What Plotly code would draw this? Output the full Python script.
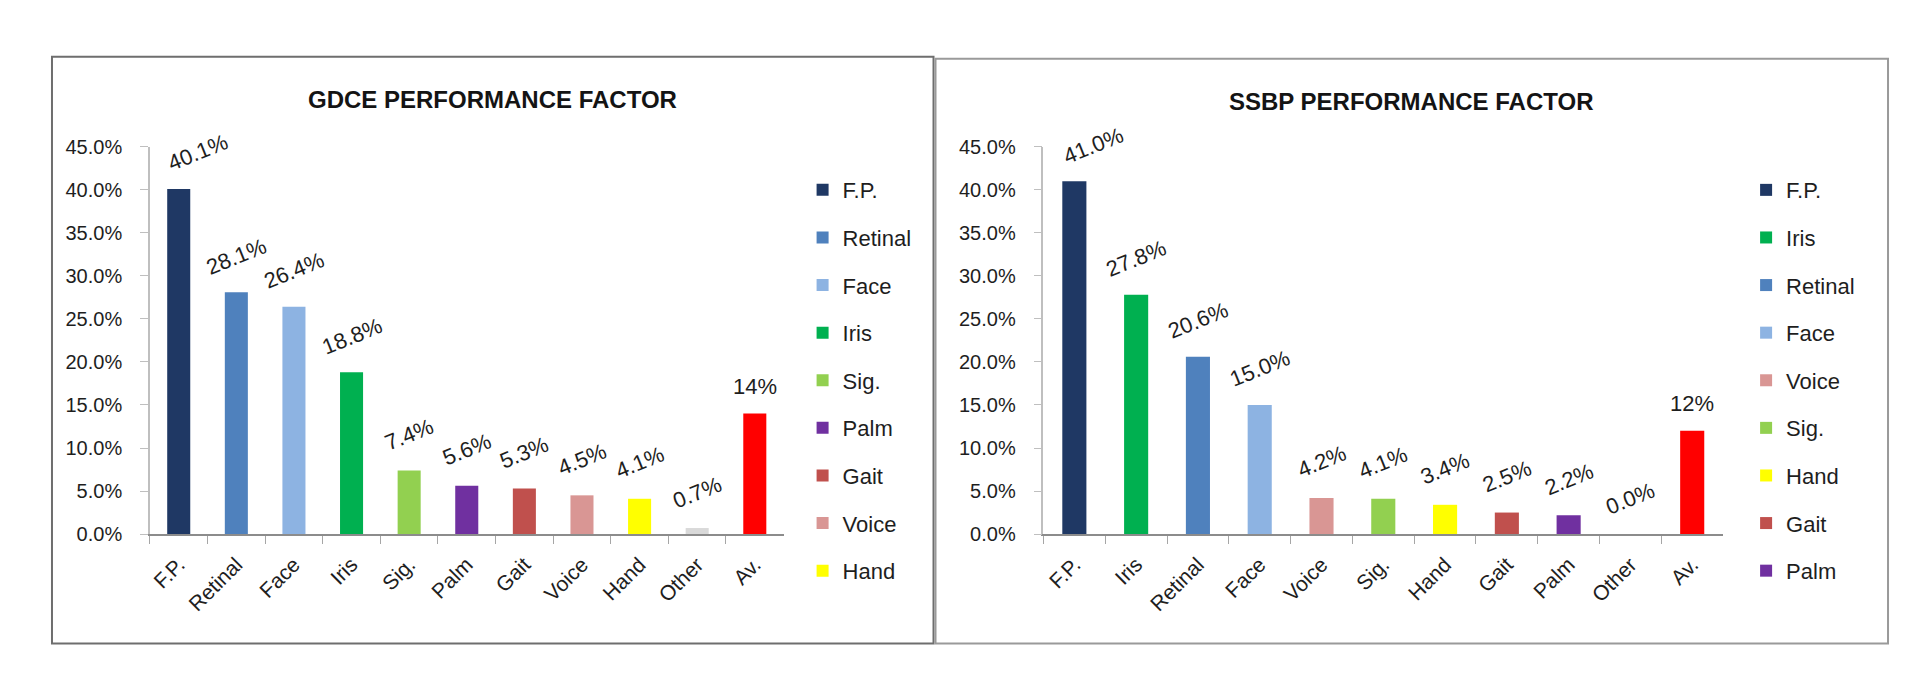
import plotly.graph_objects as go

# ---------------- data ----------------
gdce_categories = ["F.P.", "Retinal", "Face", "Iris", "Sig.", "Palm", "Gait", "Voice", "Hand", "Other", "Av."]
gdce_values = [0.401, 0.281, 0.264, 0.188, 0.074, 0.056, 0.053, 0.045, 0.041, 0.007, 0.14]
gdce_labels = ["40.1%", "28.1%", "26.4%", "18.8%", "7.4%", "5.6%", "5.3%", "4.5%", "4.1%", "0.7%", "14%"]

ssbp_categories = ["F.P.", "Iris", "Retinal", "Face", "Voice", "Sig.", "Hand", "Gait", "Palm", "Other", "Av."]
ssbp_values = [0.410, 0.278, 0.206, 0.150, 0.042, 0.041, 0.034, 0.025, 0.022, 0.000, 0.12]
ssbp_labels = ["41.0%", "27.8%", "20.6%", "15.0%", "4.2%", "4.1%", "3.4%", "2.5%", "2.2%", "0.0%", "12%"]

no_legend = ["Other", "Av."]
horizontal_labels = ["Av."]

y_tick_values = [0, 0.05, 0.10, 0.15, 0.20, 0.25, 0.30, 0.35, 0.40, 0.45]

colors = {
    "F.P.": "#1F3864",
    "Retinal": "#4F81BD",
    "Face": "#8DB3E2",
    "Iris": "#00B050",
    "Sig.": "#92D050",
    "Palm": "#7030A0",
    "Gait": "#C0504D",
    "Voice": "#D99694",
    "Hand": "#FFFF00",
    "Other": "#D9D9D9",
    "Av.": "#FF0000",
}

W, H = 1920, 691
FONT = "Liberation Sans, Arial, sans-serif"
TXT = "#1e1e1e"
Y_TOP = 0.45


def px_x(p):
    return p / W


def px_y(p):
    return 1 - p / H


fig = go.Figure()
annotations = []


def add_chart(cats, vals, labels, xa, ya, legend_name, width):
    for c, v, lab in zip(cats, vals, labels):
        fig.add_trace(go.Bar(
            x=[c], y=[v], name=c,
            marker=dict(color=colors[c], line=dict(width=0)),
            width=width,
            xaxis=xa, yaxis=ya,
            legend=legend_name,
            legendgroup=legend_name + c,
            showlegend=c not in no_legend,
            hoverinfo="skip",
        ))
        flat = c in horizontal_labels
        # labels that would touch the top tick are nudged to the right
        near_top = v > Y_TOP - 0.05
        annotations.append(dict(
            x=c, y=v, xref=xa, yref=ya, text=lab, showarrow=False,
            textangle=0 if flat else -22,
            xanchor="center", yanchor="middle",
            yshift=27 if flat else 36,
            xshift=19 if near_top else 0,
            font=dict(family=FONT, size=22, color=TXT),
        ))


add_chart(gdce_categories, gdce_values, gdce_labels, "x", "y", "legend", 0.40)
add_chart(ssbp_categories, ssbp_values, ssbp_labels, "x2", "y2", "legend2", 0.39)

common_x = dict(
    type="category", showline=True, linecolor="#8c8c8c", linewidth=2,
    ticks="outside", tickson="boundaries", ticklen=8, tickcolor="#a6a6a6",
    tickangle=-45, ticklabelstandoff=8,
    tickfont=dict(family=FONT, size=21, color=TXT),
    showgrid=False, zeroline=False,
)
common_y = dict(
    range=[0, Y_TOP], tickvals=y_tick_values, tickformat=".1%",
    showline=True, linecolor="#bfbfbf", linewidth=1.5,
    ticks="outside", ticklen=8, tickcolor="#bfbfbf",
    ticklabelstandoff=14,
    tickfont=dict(family=FONT, size=20, color=TXT),
    showgrid=False, zeroline=False,
)

y_dom = [px_y(532), px_y(132)]

legend_common = dict(
    xanchor="left", yanchor="top",
    font=dict(family=FONT, size=22, color=TXT),
    tracegroupgap=16, bgcolor="rgba(0,0,0,0)",
)

fig.update_layout(
    width=W, height=H,
    margin=dict(l=0, r=0, t=0, b=0),
    paper_bgcolor="white", plot_bgcolor="white",
    barmode="overlay",
    xaxis=dict(domain=[px_x(141), px_x(775)], categoryorder="array",
               categoryarray=gdce_categories, anchor="y", **common_x),
    yaxis=dict(domain=y_dom, anchor="x", **common_y),
    xaxis2=dict(domain=[px_x(1035), px_x(1715)], categoryorder="array",
                categoryarray=ssbp_categories, anchor="y2", **common_x),
    yaxis2=dict(domain=y_dom, anchor="x2", **common_y),
    legend=dict(x=px_x(794), y=px_y(155), **legend_common),
    legend2=dict(x=px_x(1738), y=px_y(155), **legend_common),
    showlegend=True,
)

annotations.append(dict(
    x=px_x(484), y=px_y(83), xref="paper", yref="paper",
    text="<b>GDCE PERFORMANCE FACTOR</b>", showarrow=False,
    xanchor="center", yanchor="middle",
    font=dict(family=FONT, size=24, color="#141414"),
))
annotations.append(dict(
    x=px_x(1403), y=px_y(85), xref="paper", yref="paper",
    text="<b>SSBP PERFORMANCE FACTOR</b>", showarrow=False,
    xanchor="center", yanchor="middle",
    font=dict(family=FONT, size=24, color="#141414"),
))
fig.update_layout(annotations=annotations)

fig.add_shape(type="rect", xref="paper", yref="paper",
              x0=px_x(43), x1=px_x(925), y0=px_y(645), y1=px_y(39),
              line=dict(color="#6e6e6e", width=2), fillcolor="rgba(0,0,0,0)")
fig.add_shape(type="rect", xref="paper", yref="paper",
              x0=px_x(927), x1=px_x(1880), y0=px_y(645), y1=px_y(41),
              line=dict(color="#9a9a9a", width=2), fillcolor="rgba(0,0,0,0)")

fig.write_html("out.html")
